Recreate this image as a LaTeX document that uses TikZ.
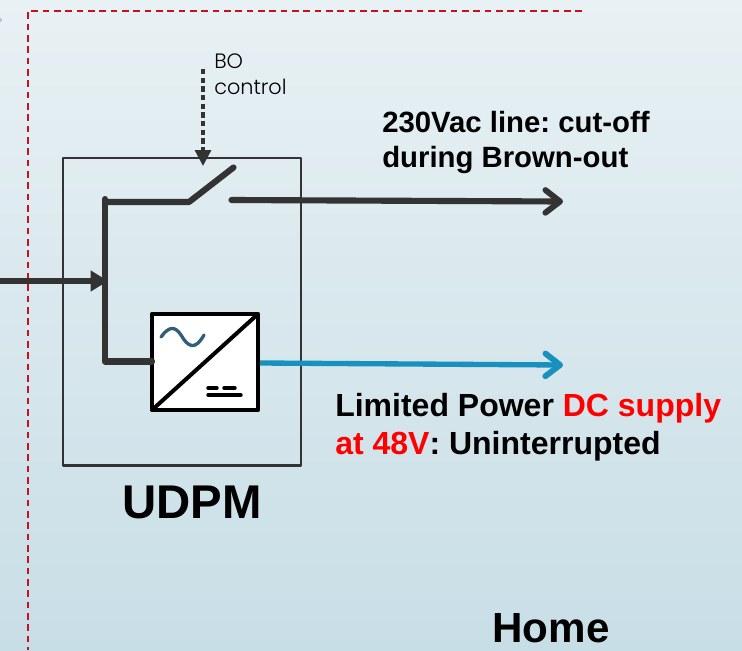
\documentclass[tikz,border=0pt]{standalone}
\usepackage{fontspec}
\setmainfont{Liberation Sans}
\newfontfamily\lightfont[UprightFont=* Light]{Poppins}
\usetikzlibrary{arrows.meta}
\definecolor{bgtop}{RGB}{232,241,244}
\definecolor{bgbot}{RGB}{200,222,230}
\definecolor{ink}{RGB}{51,51,51}
\definecolor{dash}{RGB}{200,16,30}
\definecolor{bluel}{RGB}{24,145,190}
\definecolor{sine}{RGB}{50,95,120}
\tikzset{
  x=0.75pt,y=-0.75pt,
  thick line/.style={draw=ink,line width=4.6pt,line cap=round,line join=round},
  open tip/.style={-{Straight Barb[length=11pt,width=17pt,line width=4.4pt,round]}},
  lbl/.style={font=\bfseries\fontsize{22pt}{26.5pt}\selectfont,align=left,anchor=west,text=black,inner sep=0pt},
  big/.style={text=black,inner sep=0pt,anchor=center},
  frame/.style={draw=ink,line width=2.2pt,line join=round,outer sep=0pt},
  boundary/.style={draw=dash,line width=1.7pt,dash pattern=on 5pt off 3.5pt}
}
\begin{document}
\frenchspacing
\begin{tikzpicture}
\useasboundingbox (0,0) rectangle (742,650);
\shade[top color=bgtop,bottom color=bgbot] (0,0) rectangle (742,650);
\clip (0,0) rectangle (742,650);
\fill[gray!50] (0,20) circle (2);
\draw[boundary] (582,11) -- (28,11) -- (28,650);
% module frame
\node[frame,minimum width=178.5pt,minimum height=230.5pt,anchor=north west,inner sep=0pt] (udpm) at (63,158) {};
\node[big,font=\bfseries\fontsize{35.5pt}{38pt}\selectfont] (udpmlabel) at (192,502) {UDPM};
% junctions
\coordinate (in) at (-5,281);
\coordinate (bus) at (108,281);
\coordinate (bustop) at (105,199);
\coordinate (buscorner) at (105,202);
\coordinate (sw) at (189,202);
\coordinate (swend) at (233.5,167.5);
\coordinate (swout) at (231.5,200);
\coordinate (acout) at (563,201.5);
\coordinate (busbot) at (105,361.5);
% converter
\node[draw=black,fill=white,line width=3.2pt,minimum width=79.5pt,minimum height=72pt,inner sep=0pt,outer sep=0pt,anchor=north west,line join=round] (conv) at (152,314) {};
\coordinate (dcout) at (563,365);
% lines
\draw[thick line] (buscorner) -- (sw) -- (swend);
\draw[thick line,open tip] (swout) -- (acout);
\draw[thick line] (bustop) -- (busbot) -- (busbot -| conv.west);
\draw[draw=ink,line width=3.8pt,-{Triangle[length=13pt,width=15pt]}] (in) -- (bus);
\coordinate (dcstart) at (260,363);
\draw[draw=bluel,line width=4pt,open tip] (dcstart) -- (dcout);
% converter symbols
\draw[black,line width=3pt] (conv.south west) -- (conv.north east);
\draw[sine,line width=2.5pt,line cap=round] (161,337) .. controls (169,326) and (175,326) .. (181,335) .. controls (188,347) and (195,351) .. (204,335);
\draw[black,line width=2.6pt,line cap=round] (208,388) -- (217,388) (224,388) -- (235,388) (208,395) -- (241,395);
% BO control
\coordinate (bostart) at (203,69);
\coordinate (boend) at (203,166);
\draw[draw=ink,line width=2.4pt,dash pattern=on 4pt off 2.5pt,-{Triangle[length=12pt,width=12pt]}] (bostart) -- (boend);
\node[font=\lightfont\fontsize{15.6pt}{19pt}\selectfont,align=left,anchor=north west,inner sep=0pt,text=black] (bolabel) at (214,54) {BO\\control};
% labels
\node[lbl] (aclabel) at (382,142.5) {230Vac line: cut-off\\during Brown-out};
\node[lbl,font=\bfseries\fontsize{24pt}{28.5pt}\selectfont] (dclabel) at (335,427) {Limited Power \textcolor{red}{DC supply}\\\textcolor{red}{at 48V}: Uninterrupted};
\node[big,font=\bfseries\fontsize{31.6pt}{34pt}\selectfont] (home) at (551,628) {Home};
\end{tikzpicture}
\end{document}
